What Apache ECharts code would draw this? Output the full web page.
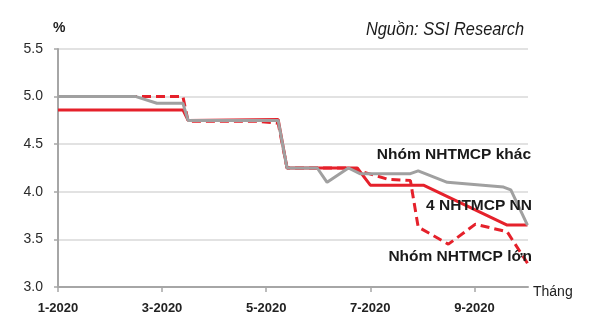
<!DOCTYPE html>
<html>
<head>
<meta charset="utf-8">
<script src="https://cdn.jsdelivr.net/npm/echarts@6/dist/echarts.min.js"></script>
<style>html,body{margin:0;padding:0;background:#fff}#c{width:600px;height:331px}</style>
</head>
<body>
<div id="c"></div>
<script>
// x positions in months since 1-2020
var xTickValues = [0, 2, 4, 6, 8];
var xTickLabels = ['1-2020', '3-2020', '5-2020', '7-2020', '9-2020'];

// Nhóm NHTMCP lớn (red dashed)
var lonMonths = [0, 2.4, 2.5, 3.85, 3.88, 4.23, 4.4, 5.6, 6.35, 6.77, 6.92, 7.5, 8.02, 8.63, 9.02];
var lonRates  = [5.0, 5.0, 4.74, 4.74, 4.72, 4.72, 4.25, 4.25, 4.13, 4.12, 3.63, 3.45, 3.66, 3.58, 3.25];

// 4 NHTMCP NN (red solid)
var nnMonths = [0, 2.4, 2.5, 4.23, 4.4, 5.75, 6.0, 7.02, 8.63, 9.02];
var nnRates  = [4.86, 4.86, 4.75, 4.76, 4.25, 4.25, 4.07, 4.07, 3.65, 3.65];

// Nhóm NHTMCP khác (gray)
var khacMonths = [0, 1.5, 1.9, 2.4, 2.5, 4.23, 4.4, 4.98, 5.17, 5.58, 5.8, 6.77, 6.92, 7.48, 8.56, 8.7, 9.02];
var khacRates  = [5.0, 5.0, 4.93, 4.93, 4.75, 4.75, 4.25, 4.25, 4.1, 4.25, 4.19, 4.19, 4.22, 4.1, 4.05, 4.02, 3.65];

function pairs(xs, ys) { return xs.map(function (x, i) { return [x, ys[i]]; }); }

var RED = '#e5212b', GRAY = '#a0a0a0';
var FONT = 'Liberation Sans, Arial, sans-serif';

var chart = echarts.init(document.getElementById('c'), null, { renderer: 'canvas' });
chart.setOption({
  animation: false,
  backgroundColor: '#fff',
  textStyle: { fontFamily: FONT },
  grid: { left: 58, right: 72, top: 49, bottom: 44, containLabel: false },
  xAxis: {
    type: 'value', min: 0, max: 9.03,
    name: 'Tháng', nameLocation: 'end', nameGap: 5,
    nameTextStyle: { fontSize: 14, color: '#222', verticalAlign: 'top', lineHeight: 10 },
    axisLine: { show: true, lineStyle: { color: '#a6a6a6', width: 2 } },
    axisTick: { show: true, customValues: xTickValues, length: 5, lineStyle: { color: '#a6a6a6', width: 1.5 } },
    axisLabel: {
      customValues: xTickValues, margin: 15,
      formatter: function (v) { var i = xTickValues.indexOf(v); return i >= 0 ? xTickLabels[i] : ''; },
      fontSize: 13, fontWeight: 'bold', color: '#222'
    },
    splitLine: { show: false }
  },
  yAxis: {
    type: 'value', min: 3, max: 5.5, interval: 0.5,
    name: '%', nameLocation: 'end', nameGap: 14,
    nameTextStyle: { fontSize: 14, fontWeight: 'bold', color: '#222', align: 'left', padding: [0, 0, 0, -5] },
    axisLine: { show: true, lineStyle: { color: '#a6a6a6', width: 2 } },
    axisTick: { show: true, length: 4, lineStyle: { color: '#a6a6a6', width: 1.5 } },
    axisLabel: { formatter: function (v) { return v.toFixed(1); }, fontSize: 14, color: '#2a2a2a', margin: 15 },
    splitLine: { show: true, lineStyle: { color: '#e2e2e2', width: 2 } }
  },
  series: [
    { name: 'Nhóm NHTMCP lớn', type: 'line', data: pairs(lonMonths, lonRates), showSymbol: false, z: 2,
      lineStyle: { color: RED, width: 3, type: [9, 5] } },
    { name: '4 NHTMCP NN', type: 'line', data: pairs(nnMonths, nnRates), showSymbol: false, z: 3,
      lineStyle: { color: RED, width: 3 } },
    { name: 'Nhóm NHTMCP khác', type: 'line', data: pairs(khacMonths, khacRates), showSymbol: false, z: 4,
      lineStyle: { color: GRAY, width: 3 } }
  ],
  graphic: [
    { type: 'text', x: 524, y: 30, scaleX: 0.86, z: 10,
      style: { text: 'Nguồn: SSI Research', font: 'italic 19px ' + FONT, fill: '#1a1a1a', align: 'right', verticalAlign: 'middle' } },
    { type: 'text', right: 69, top: 147, z: 10, style: { text: 'Nhóm NHTMCP khác', font: 'bold 15.5px ' + FONT, fill: '#1a1a1a' } },
    { type: 'text', right: 68, top: 198, z: 10, style: { text: '4 NHTMCP NN', font: 'bold 15.5px ' + FONT, fill: '#1a1a1a' } },
    { type: 'text', right: 68, top: 249, z: 10, style: { text: 'Nhóm NHTMCP lớn', font: 'bold 15.5px ' + FONT, fill: '#1a1a1a' } }
  ]
});
</script>
</body>
</html>
